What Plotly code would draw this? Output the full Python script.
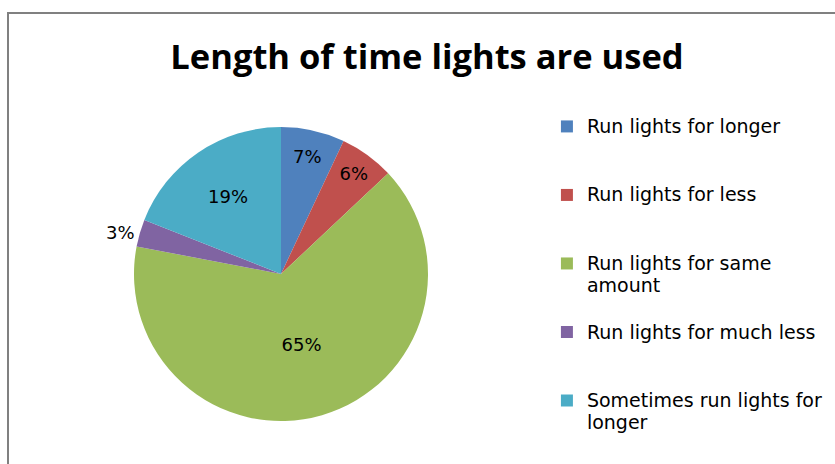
import plotly.graph_objects as go

labels = ["Run lights for longer", "Run lights for less", "Run lights for same amount",
          "Run lights for much less", "Sometimes run lights for longer"]
legend_lines = [["Run lights for longer"], ["Run lights for less"], ["Run lights for same", "amount"],
                ["Run lights for much less"], ["Sometimes run lights for", "longer"]]
values = [7, 6, 65, 3, 19]
colors = ["#4F81BD", "#C0504D", "#9BBB59", "#8064A2", "#4BACC6"]
positions = ["inside", "inside", "inside", "outside", "inside"]

W, H = 835, 464
cx, cy, r = 281, 274, 147


def legend_label(lines, n=3, size=19):
    parts = ['<span style="font-size:%dpx">%s</span>' % (size, t) for t in lines]
    parts += [" "] * (n - len(lines))
    return "<br>".join(parts)


fig = go.Figure(go.Pie(
    labels=[legend_label(l) for l in legend_lines], values=values, sort=False,
    direction="clockwise", rotation=0,
    marker=dict(colors=colors, line=dict(width=0)),
    textinfo="percent", textposition=positions, insidetextorientation="horizontal",
    textfont=dict(family="DejaVu Sans", size=18, color="#000000"),
    domain=dict(x=[(cx - r) / W, (cx + r) / W], y=[(H - cy - r) / H, (H - cy + r) / H]),
    customdata=labels, hovertemplate="%{customdata}: %{percent}<extra></extra>",
))

fig.update_layout(
    width=W, height=H, margin=dict(l=0, r=0, t=0, b=0, autoexpand=False),
    paper_bgcolor="white", plot_bgcolor="white",
    title=dict(text="<b>Length of time lights are used</b>", x=427 / W, y=1 - 57 / H,
               xanchor="center", yanchor="middle",
               font=dict(family="Open Sans", size=34.5, color="#000000")),
    legend=dict(x=0.655, y=1 - 109 / H, xanchor="left", yanchor="top",
                font=dict(family="DejaVu Sans", size=16.8, color="#000000"),
                valign="top", bgcolor="rgba(0,0,0,0)"),
    shapes=[dict(type="rect", xref="paper", yref="paper",
                 x0=8 / W, x1=1.05, y0=-0.05, y1=1 - 13 / H,
                 line=dict(color="#808080", width=2))],
)

fig.write_html("out.html")
